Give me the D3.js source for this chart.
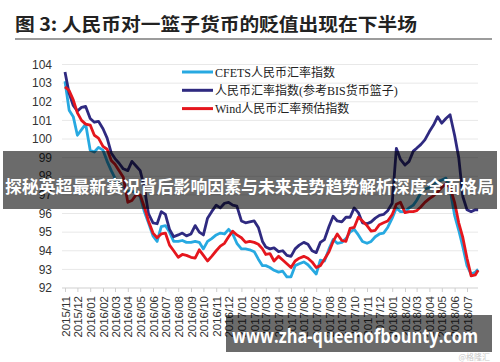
<!DOCTYPE html>
<html>
<head>
<meta charset="utf-8">
<script src="https://cdn.jsdelivr.net/npm/d3@7"></script>
<style>
  body { margin: 0; background: #fff; }
  svg { display: block; }
</style>
</head>
<body>
<div id="chart"></div>
<script>
// Sampling dates (1st, 11th, 21st of each month)
const dates = [
  "2015-11-01","2015-11-11","2015-11-21","2015-12-01","2015-12-11","2015-12-21",
  "2016-01-01","2016-01-11","2016-01-21","2016-02-01","2016-02-11","2016-02-21",
  "2016-03-01","2016-03-11","2016-03-21","2016-04-01","2016-04-11","2016-04-21",
  "2016-05-01","2016-05-11","2016-05-21","2016-06-01","2016-06-11","2016-06-21",
  "2016-07-01","2016-07-11","2016-07-21","2016-08-01","2016-08-11","2016-08-21",
  "2016-09-01","2016-09-11","2016-09-21","2016-10-01","2016-10-11","2016-10-21",
  "2016-11-01","2016-11-11","2016-11-21","2016-12-01","2016-12-11","2016-12-21",
  "2017-01-01","2017-01-11","2017-01-21","2017-02-01","2017-02-11","2017-02-21",
  "2017-03-01","2017-03-11","2017-03-21","2017-04-01","2017-04-11","2017-04-21",
  "2017-05-01","2017-05-11","2017-05-21","2017-06-01","2017-06-11","2017-06-21",
  "2017-07-01","2017-07-11","2017-07-21","2017-08-01","2017-08-11","2017-08-21",
  "2017-09-01","2017-09-11","2017-09-21","2017-10-01","2017-10-11","2017-10-21",
  "2017-11-01","2017-11-11","2017-11-21","2017-12-01","2017-12-11","2017-12-21",
  "2018-01-01","2018-01-11","2018-01-21","2018-02-01","2018-02-11","2018-02-21",
  "2018-03-01","2018-03-11","2018-03-21","2018-04-01","2018-04-11","2018-04-21",
  "2018-05-01","2018-05-11","2018-05-21","2018-06-01","2018-06-11","2018-06-21",
  "2018-07-01","2018-07-11","2018-07-21","2018-07-28"
];

// CFETS人民币汇率指数
const cfets = [
  103.1,101.55,101.2,100.2,100.5,100.8,
  99.4,99.3,99.55,99.4,98.8,98.3,
  97.9,97.6,97.4,97.2,97.2,97.1,
  96.9,96.1,95.5,94.8,94.5,95.3,
  95.35,95.0,94.5,94.5,94.55,94.45,
  94.45,94.5,94.45,94.1,94.5,94.65,
  94.85,94.95,94.9,95.15,94.9,94.4,
  94.1,94.1,94.05,93.95,93.55,93.2,
  93.2,93.1,92.95,92.85,92.9,92.6,
  92.6,93.2,93.3,93.4,93.25,93.0,
  92.75,93.5,93.45,94.1,94.6,94.4,
  94.45,94.65,95.0,95.15,94.85,94.5,
  94.4,94.5,94.75,94.9,94.95,95.25,
  95.75,96.3,96.1,96.1,96.3,96.45,
  96.7,97.1,97.3,97.4,97.6,97.7,
  97.8,97.9,97.3,95.9,95.1,94.2,
  93.2,92.75,92.85,93.0
];

// 人民币汇率指数(参考BIS货币篮子)
const bis = [
  103.6,102.45,101.8,101.5,101.7,101.75,
  101.1,100.9,100.95,100.55,100.05,99.25,
  98.95,98.7,98.4,98.3,98.8,98.55,
  98.3,97.4,96.0,95.5,95.45,96.1,
  95.95,95.15,94.75,94.85,94.95,94.8,
  94.9,95.35,95.0,94.85,95.75,96.1,
  96.45,96.3,96.55,96.6,96.45,96.4,
  95.6,95.5,95.55,95.6,95.25,94.5,
  94.2,94.1,94.15,93.95,94.0,93.75,
  93.7,94.1,94.3,94.45,94.35,94.0,
  93.9,94.45,94.6,95.3,95.85,95.6,
  95.55,95.8,95.8,96.3,96.05,95.5,
  95.45,95.55,95.75,95.9,95.95,96.15,
  96.55,99.5,98.9,98.6,98.8,99.35,
  99.5,99.7,99.95,100.4,100.75,101.2,
  100.85,101.1,101.3,100.2,99.0,96.9,
  96.2,96.1,96.2,96.2
];

// Wind人民币汇率预估指数
const wind = [
  102.8,102.6,102.1,101.4,101.0,100.8,
  100.75,100.2,100.05,99.6,99.45,98.85,
  98.65,98.3,97.95,96.6,96.7,97.0,
  97.0,96.35,95.6,94.95,94.7,94.9,
  94.95,94.3,94.0,93.65,93.8,93.75,
  93.65,93.6,94.05,93.75,93.45,93.7,
  94.0,94.25,94.4,94.75,95.05,94.85,
  94.7,94.45,94.5,94.45,94.35,94.1,
  93.8,93.85,93.45,93.7,93.5,93.3,
  93.1,93.45,93.6,93.7,93.6,93.4,
  93.1,93.2,93.55,93.95,94.5,94.9,
  94.55,94.5,95.2,95.25,95.8,95.6,
  95.35,95.05,95.1,95.4,95.5,95.6,
  95.95,96.5,96.6,96.05,96.1,96.1,
  96.15,96.35,96.6,96.8,96.95,97.15,
  97.4,97.6,97.4,96.6,95.5,94.7,
  93.6,92.65,92.7,92.95
];

const seriesNames = ["CFETS人民币汇率指数", "人民币汇率指数(参考BIS货币篮子)", "Wind人民币汇率预估指数"];
const seriesColors = ["#27a9e1", "#2f2a80", "#e5161d"];
const yTicks = [92, 93, 94, 95, 96, 97, 98, 99, 100, 101, 102, 103, 104];

const width = 500, height = 362;
const svg = d3.select('#chart').append('svg')
    .attr('width', width)
    .attr('height', height);

// Title
svg.append('text')
    .attr('x', 15)
    .attr('y', 31)
    .attr('font-family', '"Noto Sans CJK SC", sans-serif')
    .attr('font-weight', 700)
    .attr('font-size', 18)
    .attr('fill', '#222')
    .attr('textLength', 402)
    .attr('lengthAdjust', 'spacingAndGlyphs')
    .text('图 3:  人民币对一篮子货币的贬值出现在下半场');

svg.append('line')
    .attr('x1', 15).attr('x2', 492)
    .attr('y1', 39).attr('y2', 39)
    .attr('stroke', '#9c9c9c')
    .attr('stroke-width', 2);

const parse = d3.timeParse('%Y-%m-%d');
const x = d3.scaleTime()
    .domain([new Date(2015, 10, 1), new Date(2018, 6, 1)])
    .range([65, 467]);
const y = d3.scaleLinear()
    .domain([92, 104])
    .range([288, 64.5]);

const plotLeft = 62, plotRight = 478;

// Gridlines
svg.append('g')
    .selectAll('line')
    .data(yTicks.filter(d => d > 92))
    .enter()
    .append('line')
    .attr('x1', plotLeft).attr('x2', plotRight)
    .attr('y1', d => y(d)).attr('y2', d => y(d))
    .attr('stroke', '#e8e8e8')
    .attr('stroke-width', 1);

// Y labels
svg.append('g')
    .selectAll('text')
    .data(yTicks)
    .enter()
    .append('text')
    .attr('x', 52)
    .attr('y', d => y(d))
    .attr('dy', '0.35em')
    .attr('text-anchor', 'end')
    .attr('font-family', '"Liberation Sans", Arial, sans-serif')
    .attr('font-size', 12)
    .attr('fill', '#333')
    .text(d => d);

// X axis
const months = d3.timeMonth.range(new Date(2015, 10, 1), new Date(2018, 6, 2));
const xAxis = d3.axisBottom(x)
    .tickValues(months)
    .tickSize(4)
    .tickFormat(d3.timeFormat('%Y/%m'));

const gx = svg.append('g')
    .attr('transform', `translate(0,${y(92)})`)
    .call(xAxis);
gx.select('.domain').attr('d', `M${plotLeft},0H${plotRight}`).attr('stroke', '#cfcfcf');
gx.selectAll('.tick line').attr('stroke', '#cfcfcf');
gx.selectAll('.tick text')
    .attr('font-family', '"Liberation Sans", Arial, sans-serif')
    .attr('font-size', 11.5)
    .attr('fill', '#333')
    .attr('text-anchor', 'end')
    .attr('transform', 'rotate(-90)')
    .attr('x', -8)
    .attr('y', 0)
    .attr('dy', '0.35em');

// Lines
const seriesData = [cfets, bis, wind];
const line = d3.line()
    .x(d => x(d.date))
    .y(d => y(d.value));

seriesData.forEach((vals, i) => {
    const pts = dates.map((dt, j) => ({ date: parse(dt), value: vals[j] }));
    svg.append('path')
        .datum(pts)
        .attr('fill', 'none')
        .attr('stroke', seriesColors[i])
        .attr('stroke-width', 2.8)
        .attr('stroke-linejoin', 'round')
        .attr('d', line);
});

// Legend
const legend = svg.append('g');
seriesNames.forEach((name, i) => {
    const ly = 72 + i * 18.3;
    legend.append('line')
        .attr('x1', 182).attr('x2', 213)
        .attr('y1', ly).attr('y2', ly)
        .attr('stroke', seriesColors[i])
        .attr('stroke-width', 3);
    legend.append('text')
        .attr('x', 215)
        .attr('y', ly)
        .attr('dy', '0.38em')
        .attr('font-family', '"Liberation Serif", "Noto Sans CJK SC", serif')
        .attr('font-size', 12)
        .attr('fill', '#222')
        .text(name);
});

// Overlay banners
svg.append('rect')
    .attr('x', 3).attr('y', 151)
    .attr('width', 494).attr('height', 58)
    .attr('fill', 'rgba(0,0,0,0.58)');
svg.append('text')
    .attr('x', 5)
    .attr('y', 193)
    .attr('font-family', '"Noto Sans CJK SC", sans-serif')
    .attr('font-weight', 700)
    .attr('font-size', 17.5)
    .attr('fill', '#fff')
    .attr('textLength', 489)
    .attr('lengthAdjust', 'spacingAndGlyphs')
    .text('探秘英超最新赛况背后影响因素与未来走势趋势解析深度全面格局');

svg.append('rect')
    .attr('x', 226).attr('y', 315)
    .attr('width', 266).attr('height', 37)
    .attr('fill', 'rgba(0,0,0,0.58)');
svg.append('text')
    .attr('x', 232)
    .attr('y', 343)
    .attr('font-family', '"Open Sans", "DejaVu Sans", sans-serif')
    .attr('font-weight', 700)
    .attr('font-size', 19)
    .attr('fill', '#fff')
    .attr('textLength', 246)
    .attr('lengthAdjust', 'spacingAndGlyphs')
    .text('www.zha-queenofbounty.com');
svg.append('text')
    .attr('x', 490).attr('y', 360)
    .attr('text-anchor', 'end')
    .attr('font-family', '"Noto Sans CJK SC", sans-serif')
    .attr('font-size', 8)
    .attr('fill', '#c8c8c8')
    .text('@格隆汇');
</script>
</body>
</html>
